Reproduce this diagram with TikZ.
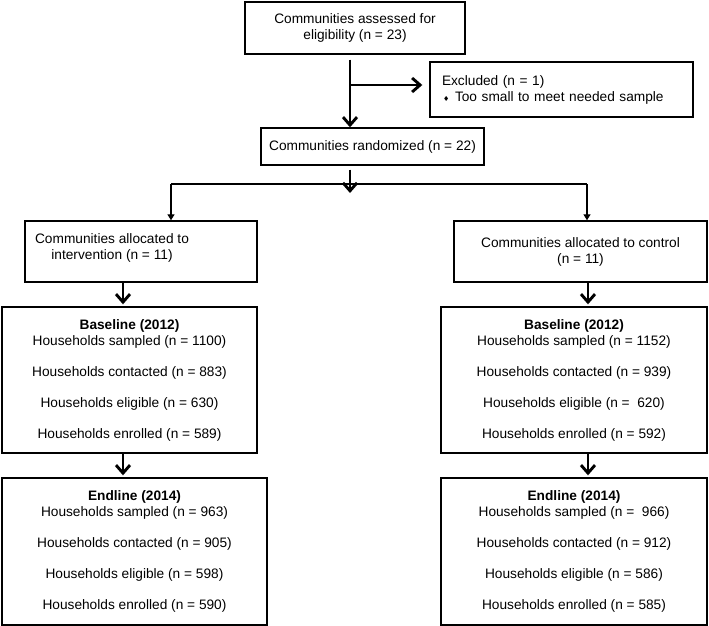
\documentclass[tikz,border=0pt]{standalone}
\usepackage{fontspec}
\setmainfont{Liberation Sans}
\newfontfamily\dejavu{DejaVu Sans}
\usetikzlibrary{arrows.meta}
\begin{document}
\begin{tikzpicture}[x=1pt,y=-1pt,
  box/.style={draw, line width=1.4pt, inner sep=0pt, font=\fontsize{13.7}{16}\selectfont, align=center},
  txt/.style={inner sep=0pt, font=\fontsize{13.7}{16}\selectfont, align=center},
  bigarrow/.style={line width=2.9pt, -{Straight Barb[length=8pt,width=14pt,line width=2.9pt]}},
  thinline/.style={line width=1.3pt},
  thinarrow/.style={line width=1.3pt, -{Triangle[length=6pt,width=7pt]}}
]
\useasboundingbox (0,0) rectangle (709,626);

\node[box, minimum width=220pt, minimum height=52pt] (top) at (355,28)
  {Communities assessed for\\eligibility (n = 23)};
\node[box, minimum width=263pt, minimum height=55pt, align=left, text width=239pt] (excl) at (561.5,89.5)
  {Excluded (n = 1)\\\hspace*{1pt}\makebox[12pt][l]{\dejavu\fontsize{7}{8}\selectfont ♦}Too small to meet needed sample};
\node[box, minimum width=223pt, minimum height=37pt] (rand) at (372.5,146.5)
  {Communities randomized (n = 22)};

\node[box, minimum width=232pt, minimum height=61pt] (alloc1) at (141,251.5) {};
\node[txt] (alloc1t) at (112,248) {Communities allocated to\\intervention (n = 11)};
\node[box, minimum width=253pt, minimum height=61pt] (alloc2) at (580.5,251.5)
  {Communities allocated to control\\(n = 11)};

\node[box, minimum width=255pt, minimum height=146pt] (base1) at (129.5,380)
  {\textbf{Baseline (2012)}\\Households sampled (n = 1100)\\[15pt]Households contacted (n = 883)\\[15pt]Households eligible (n = 630)\\[15pt]Households enrolled (n = 589)};
\node[box, minimum width=265pt, minimum height=147pt] (end1) at (134.5,551.5)
  {\textbf{Endline (2014)}\\Households sampled (n = 963)\\[15pt]Households contacted (n = 905)\\[15pt]Households eligible (n = 598)\\[15pt]Households enrolled (n = 590)};
\node[box, minimum width=266pt, minimum height=146pt] (base2) at (574,380)
  {\textbf{Baseline (2012)}\\Households sampled (n = 1152)\\[15pt]Households contacted (n = 939)\\[15pt]Households eligible (n = \ 620)\\[15pt]Households enrolled (n = 592)};
\node[box, minimum width=266pt, minimum height=147pt] (end2) at (574,551.5)
  {\textbf{Endline (2014)}\\Households sampled (n = \ 966)\\[15pt]Households contacted (n = 912)\\[15pt]Households eligible (n = 586)\\[15pt]Households enrolled (n = 585)};

\coordinate (mx) at (350,0);
\coordinate (br) at (350,85);
\coordinate (sp) at (350,193);
\coordinate (hl) at (171,184);
\coordinate (hr) at (587,184);
\coordinate (lx) at (123,0);
\coordinate (rx) at (588,0);

\draw[bigarrow] ([yshift=-5pt]top.south -| mx) -- (rand.north -| mx);
\draw[bigarrow] (br) -- ([xshift=-7pt]excl.west |- br);
\draw[bigarrow] ([yshift=-4pt]rand.south -| mx) -- (sp);
\draw[thinline] (hl) -- (hr);
\draw[thinarrow] (hl) -- (alloc1.north -| hl);
\draw[thinarrow] (hr) -- (alloc2.north -| hr);
\draw[bigarrow] (alloc1.south -| lx) -- ([yshift=2pt]base1.north -| lx);
\draw[bigarrow] (base1.south -| lx) -- ([yshift=2pt]end1.north -| lx);
\draw[bigarrow] (alloc2.south -| rx) -- ([yshift=2pt]base2.north -| rx);
\draw[bigarrow] (base2.south -| rx) -- ([yshift=2pt]end2.north -| rx);
\end{tikzpicture}
\end{document}
